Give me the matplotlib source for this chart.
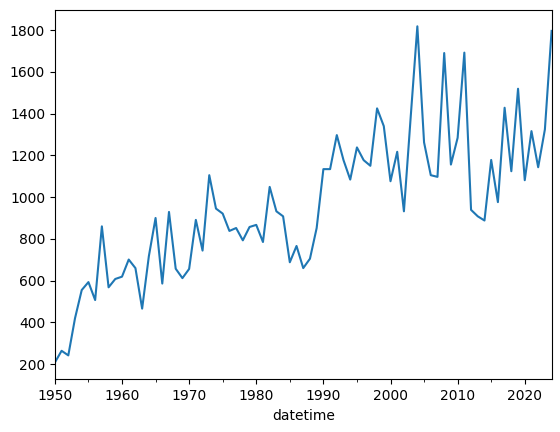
import matplotlib
matplotlib.use("Agg")
import matplotlib.pyplot as plt
import pandas as pd

# yearly values, 1950..2024
years = list(range(1950, 2025))
values = [
    208, 264, 242, 420, 555, 593, 507, 860, 568, 608,
    619, 701, 660, 466, 717, 900, 586, 929, 657, 612,
    656, 891, 744, 1105, 945, 921, 838, 852, 793, 857,
    867, 785, 1049, 932, 908, 688, 766, 660, 705, 852,
    1134, 1134, 1297, 1177, 1084, 1238, 1177, 1150, 1425, 1340,
    1076, 1217, 932, 1380, 1818, 1262, 1105, 1097, 1690, 1156,
    1284, 1692, 939, 908, 888, 1178, 976, 1428, 1124, 1519,
    1081, 1316, 1143, 1324, 1796,
]

idx = pd.date_range(start="1950-01-01", periods=len(years), freq="YS")
idx.name = "datetime"
s = pd.Series(values, index=idx)

fig, ax = plt.subplots(figsize=(5.6, 4.32), dpi=100)
s.plot(ax=ax)

fig.subplots_adjust(left=0.098, right=0.985, bottom=0.122, top=0.978)
fig.savefig("out.png")
